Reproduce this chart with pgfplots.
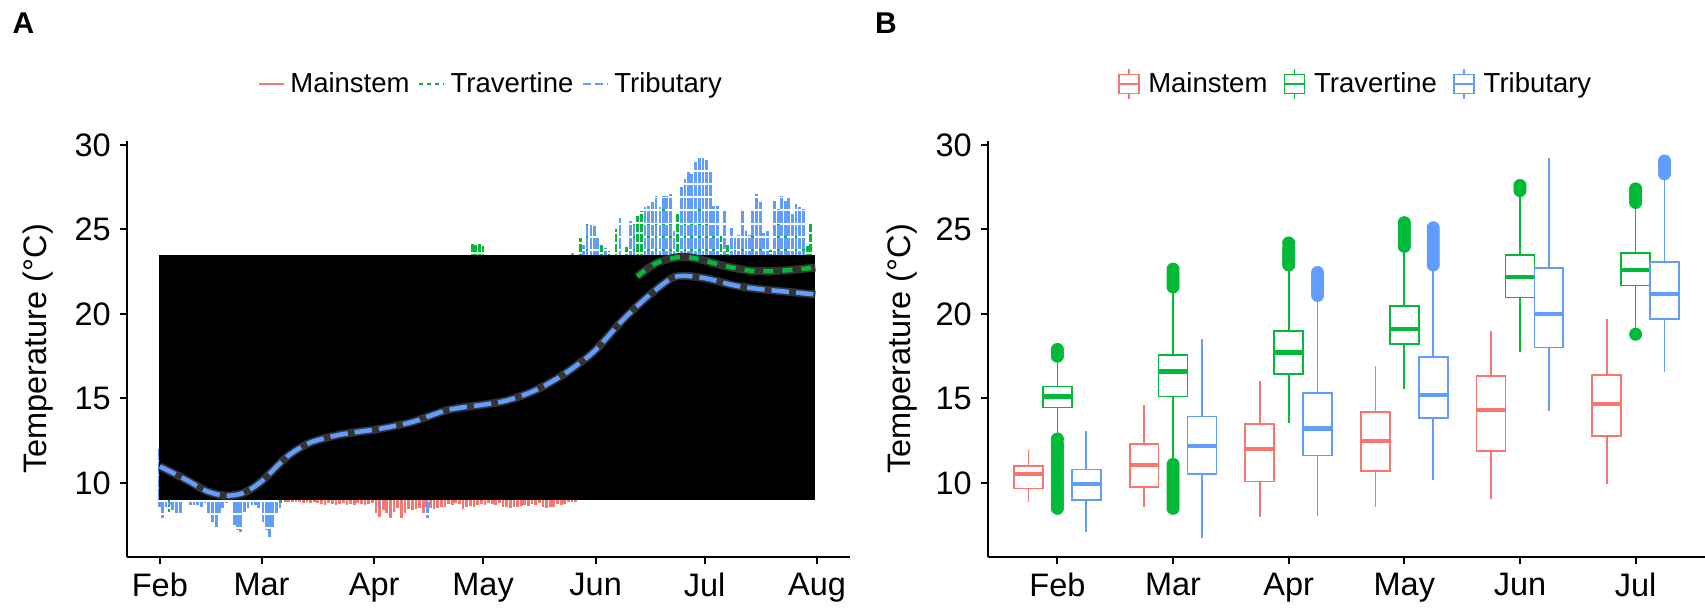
\documentclass[border=0pt]{standalone}
\usepackage{fontspec}
\setmainfont{Liberation Sans}
\usepackage{pgfplots}
\pgfplotsset{compat=1.18}
\definecolor{cR}{HTML}{F8766D}
\definecolor{cG}{HTML}{00BA38}
\definecolor{cB}{HTML}{619CFF}
\definecolor{halo}{HTML}{333333}
\begin{document}
\begin{tikzpicture}
\useasboundingbox (0,0) rectangle (682pt,243.2pt);
\pgfplotsset{
  base/.style={
    scale only axis, height=166.5pt,
    ymin=5.62, ymax=30.25,
    ytick={10,15,20,25,30},
    axis x line*=bottom, axis y line*=left,
    axis line style={line width=0.8pt,-},
    tick style={line width=0.8pt,black},
    tick align=outside, major tick length=3pt,
    tick label style={font=\fontsize{13}{15}\selectfont},
    /pgf/number format/assume math mode=true,
    ylabel={Temperature (°C)},
    ylabel style={font=\fontsize{13}{15}\selectfont, anchor=center},
    legend style={draw=none, fill=none, font=\fontsize{11}{13}\selectfont,
      legend columns=3, anchor=center},
    unbounded coords=jump,
  }
}
% ---------------- Panel A ----------------
\begin{axis}[base, at={(50.8pt,20.4pt)}, anchor=south west, width=289.2pt,
  xmin=-9.05, xmax=190.05,
  xtick={0,28,59,89,120,150,181},
  xticklabels={Feb,Mar,Apr,May,Jun,Jul,Aug},
  ylabel style={at={(axis description cs:-0.123,0.5)}},
  legend style={at={(0.5055,1.1363)},
    /tikz/every even column/.append style={column sep=1.5pt}},
  legend image code/.code={\draw[#1] (0pt,0pt) -- (10pt,0pt);}]
\addlegendimage{cR, line width=0.9pt}
\addlegendentry{Mainstem}
\addlegendimage{cG, line width=0.9pt, dash pattern=on 1.5pt off 1.6pt}
\addlegendentry{Travertine}
\addlegendimage{cB, line width=0.9pt, dash pattern=on 3pt off 1.8pt}
\addlegendentry{Tributary}
% raw series, lower visible parts (Mainstem)
\addplot[cR, line width=1.1pt, forget plot] coordinates {
(34.5,12)(34.5,8.9)(34.5,nan) (35.5,12)(35.5,8.85)(35.5,nan) (36.5,12)(36.5,8.9)(36.5,nan) (37.5,12)(37.5,8.85)(37.5,nan)
(38.5,12)(38.5,8.85)(38.5,nan) (39.5,12)(39.5,8.8)(39.5,nan) (40.5,12)(40.5,8.85)(40.5,nan) (41.5,12)(41.5,8.8)(41.5,nan)
(42.5,12)(42.5,8.85)(42.5,nan) (43.5,12)(43.5,8.8)(43.5,nan) (44.5,12)(44.5,8.75)(44.5,nan) (45.5,12)(45.5,8.7)(45.5,nan)
(46.5,12)(46.5,8.8)(46.5,nan) (47.5,12)(47.5,8.75)(47.5,nan) (48.5,12)(48.5,8.7)(48.5,nan) (49.5,12)(49.5,8.75)(49.5,nan)
(50.5,12)(50.5,8.8)(50.5,nan) (51.5,12)(51.5,8.7)(51.5,nan) (52.5,12)(52.5,8.75)(52.5,nan) (53.5,12)(53.5,8.7)(53.5,nan)
(54.5,12)(54.5,8.8)(54.5,nan) (55.5,12)(55.5,8.75)(55.5,nan) (56.5,12)(56.5,8.7)(56.5,nan) (57.5,12)(57.5,8.75)(57.5,nan)
(58.5,12)(58.5,8.8)(58.5,nan) (59.5,12)(59.5,8.2)(59.5,nan) (60.5,12)(60.5,8.0)(60.5,nan) (61.5,12)(61.5,8.4)(61.5,nan)
(62.5,12)(62.5,8.2)(62.5,nan) (63.5,12)(63.5,7.9)(63.5,nan) (64.5,12)(64.5,8.3)(64.5,nan) (65.5,12)(65.5,8.5)(65.5,nan)
(66.5,12)(66.5,7.9)(66.5,nan) (67.5,12)(67.5,8.2)(67.5,nan) (68.5,12)(68.5,8.45)(68.5,nan) (69.5,12)(69.5,8.4)(69.5,nan)
(70.5,12)(70.5,8.45)(70.5,nan) (71.5,12)(71.5,8.5)(71.5,nan) (72.5,12)(72.5,8.2)(72.5,nan) (73.5,12)(73.5,8.6)(73.5,nan)
(74.5,12)(74.5,8.5)(74.5,nan) (75.5,12)(75.5,8.45)(75.5,nan) (76.5,12)(76.5,8.5)(76.5,nan) (77.5,12)(77.5,8.55)(77.5,nan)
(78.5,12)(78.5,8.6)(78.5,nan) (79.5,12)(79.5,8.75)(79.5,nan) (80.5,12)(80.5,8.7)(80.5,nan) (81.5,12)(81.5,8.8)(81.5,nan)
(82.5,12)(82.5,8.75)(82.5,nan) (83.5,12)(83.5,8.45)(83.5,nan) (84.5,12)(84.5,8.6)(84.5,nan) (85.5,12)(85.5,8.65)(85.5,nan)
(86.5,12)(86.5,8.6)(86.5,nan) (87.5,12)(87.5,8.7)(87.5,nan) (88.5,12)(88.5,8.75)(88.5,nan) (89.5,12)(89.5,8.7)(89.5,nan)
(90.5,12)(90.5,8.8)(90.5,nan) (91.5,12)(91.5,8.75)(91.5,nan) (92.5,12)(92.5,8.7)(92.5,nan) (93.5,12)(93.5,8.8)(93.5,nan)
(94.5,12)(94.5,8.55)(94.5,nan) (95.5,12)(95.5,8.6)(95.5,nan) (96.5,12)(96.5,8.5)(96.5,nan) (97.5,12)(97.5,8.6)(97.5,nan)
(98.5,12)(98.5,8.55)(98.5,nan) (99.5,12)(99.5,8.65)(99.5,nan) (100.5,12)(100.5,8.7)(100.5,nan) (101.5,12)(101.5,8.65)(101.5,nan)
(102.5,12)(102.5,8.75)(102.5,nan) (103.5,12)(103.5,8.7)(103.5,nan) (104.5,12)(104.5,8.8)(104.5,nan) (105.5,12)(105.5,8.55)(105.5,nan)
(106.5,12)(106.5,8.5)(106.5,nan) (107.5,12)(107.5,8.6)(107.5,nan) (108.5,12)(108.5,8.55)(108.5,nan) (109.5,12)(109.5,8.75)(109.5,nan)
(110.5,12)(110.5,8.7)(110.5,nan) (111.5,12)(111.5,8.75)(111.5,nan) (112.5,12)(112.5,8.85)(112.5,nan) (113.5,12)(113.5,8.9)(113.5,nan)
(114.5,12)(114.5,8.9)(114.5,nan)
};
% Travertine raw, visible parts
\addplot[cG, line width=1.1pt, dash pattern=on 3pt off 1pt, forget plot] coordinates {
(2.5,12)(2.5,8.3)(2.5,nan) (33.3,12)(33.3,8.8)(33.3,nan)
(86,16)(86,24.2)(86,nan) (87,16)(87,24.1)(87,nan) (88,16)(88,24.2)(88,nan) (89,16)(89,24.0)(89,nan)
(115.8,16)(115.8,24.5)(115.8,nan) (117.6,16)(117.6,25.4)(117.6,nan) (121.7,16)(121.7,24.1)(121.7,nan)
(123.7,16)(123.7,23.7)(123.7,nan) (125.6,16)(125.6,25.0)(125.6,nan) (128.6,16)(128.6,23.95)(128.6,nan)
(130.6,16)(130.6,25.3)(130.6,nan) (131.5,16)(131.5,25.8)(131.5,nan) (132.6,16)(132.6,26.1)(132.6,nan)
(134.6,16)(134.6,25.6)(134.6,nan) (136.6,16)(136.6,25.5)(136.6,nan) (138.7,16)(138.7,26.6)(138.7,nan)
(140.7,16)(140.7,25.4)(140.7,nan) (142.6,16)(142.6,26.0)(142.6,nan) (144.6,16)(144.6,25.6)(144.6,nan)
(146.5,16)(146.5,25.8)(146.5,nan) (148.5,16)(148.5,26.3)(148.5,nan) (150.6,16)(150.6,25.8)(150.6,nan)
(152.5,16)(152.5,25.2)(152.5,nan) (154.5,16)(154.5,24.6)(154.5,nan) (156.4,16)(156.4,24.1)(156.4,nan)
(158.4,16)(158.4,23.8)(158.4,nan) (160.4,16)(160.4,24.2)(160.4,nan) (163.2,16)(163.2,24.7)(163.2,nan)
(165.3,16)(165.3,24.5)(165.3,nan) (168.2,16)(168.2,23.8)(168.2,nan) (170.3,16)(170.3,25.3)(170.3,nan)
(172.2,16)(172.2,25.1)(172.2,nan) (175.2,16)(175.2,24.6)(175.2,nan) (177.2,16)(177.2,24.4)(177.2,nan)
(178.3,16)(178.3,24.0)(178.3,nan) (179.2,16)(179.2,25.4)(179.2,nan)
};
% Tributary raw, visible parts
\addplot[cB, line width=1.1pt, dash pattern=on 4.5pt off 0.8pt, forget plot] coordinates {
(0,12)(0,8.6)(0,nan) (0.8,12)(0.8,7.9)(0.8,nan) (1.7,12)(1.7,8.6)(1.7,nan) (2.6,12)(2.6,8.7)(2.6,nan) (3.5,12)(3.5,8.4)(3.5,nan)
(4.6,12)(4.6,8.25)(4.6,nan) (5.6,12)(5.6,8.25)(5.6,nan) (8.5,12)(8.5,8.7)(8.5,nan) (9.4,12)(9.4,8.7)(9.4,nan)
(10.3,12)(10.3,8.7)(10.3,nan) (11.5,12)(11.5,8.6)(11.5,nan) (12.4,12)(12.4,8.8)(12.4,nan) (13.3,12)(13.3,8.2)(13.3,nan)
(14.4,12)(14.4,7.7)(14.4,nan) (15.6,12)(15.6,7.3)(15.6,nan) (16.5,12)(16.5,8.2)(16.5,nan) (17.3,12)(17.3,8.5)(17.3,nan)
(18.4,12)(18.4,8.8)(18.4,nan)
(19.4,12)(19.4,8.9)(19.4,nan) (20.5,12)(20.5,7.5)(20.5,nan) (21.4,12)(21.4,7.2)(21.4,nan) (22.3,12)(22.3,7.1)(22.3,nan)
(23.4,12)(23.4,8.3)(23.4,nan) (24.3,12)(24.3,8.5)(24.3,nan) (25.4,12)(25.4,8.7)(25.4,nan) (26.3,12)(26.3,8.7)(26.3,nan)
(27.2,12)(27.2,8.5)(27.2,nan) (28.4,12)(28.4,7.7)(28.4,nan) (29.3,12)(29.3,7.2)(29.3,nan) (30.2,12)(30.2,6.8)(30.2,nan)
(31.1,12)(31.1,7.4)(31.1,nan) (32.2,12)(32.2,8.2)(32.2,nan) (33.1,12)(33.1,8.5)(33.1,nan)
(60.6,12)(60.6,8.5)(60.6,nan) (66.4,12)(66.4,8.8)(66.4,nan) (73.6,12)(73.6,7.95)(73.6,nan)
(113.7,16)(113.7,23.6)(113.7,nan) (116.7,16)(116.7,24.1)(116.7,nan) (117.6,16)(117.6,25.2)(117.6,nan)
(118.7,16)(118.7,25.4)(118.7,nan) (119.7,16)(119.7,25.2)(119.7,nan) (120.6,16)(120.6,24.6)(120.6,nan)
(122.7,16)(122.7,23.9)(122.7,nan) (126.7,16)(126.7,25.7)(126.7,nan) (129.7,16)(129.7,25.5)(129.7,nan)
(130.6,16)(130.6,25.3)(130.6,nan) (133.6,16)(133.6,26.35)(133.6,nan) (134.6,16)(134.6,26.4)(134.6,nan)
(135.7,16)(135.7,26.6)(135.7,nan) (136.6,16)(136.6,27.0)(136.6,nan) (137.7,16)(137.7,26.3)(137.7,nan)
(138.7,16)(138.7,27.0)(138.7,nan) (139.6,16)(139.6,27.0)(139.6,nan) (140.7,16)(140.7,27.1)(140.7,nan)
(141.6,16)(141.6,24.9)(141.6,nan) (143.6,16)(143.6,27.5)(143.6,nan) (144.6,16)(144.6,28.0)(144.6,nan)
(145.5,16)(145.5,28.5)(145.5,nan) (146.5,16)(146.5,28.3)(146.5,nan) (147.5,16)(147.5,29.0)(147.5,nan)
(148.5,16)(148.5,29.2)(148.5,nan) (149.6,16)(149.6,29.2)(149.6,nan) (150.6,16)(150.6,29.1)(150.6,nan)
(151.6,16)(151.6,28.4)(151.6,nan) (152.5,16)(152.5,26.4)(152.5,nan) (153.5,16)(153.5,26.4)(153.5,nan)
(155.4,16)(155.4,26.1)(155.4,nan) (157.5,16)(157.5,25.1)(157.5,nan) (158.4,16)(158.4,24.5)(158.4,nan)
(159.4,16)(159.4,24.7)(159.4,nan) (160.4,16)(160.4,26.1)(160.4,nan) (161.4,16)(161.4,24.9)(161.4,nan)
(162.3,16)(162.3,24.7)(162.3,nan) (163.2,16)(163.2,26.1)(163.2,nan) (164.3,16)(164.3,27.1)(164.3,nan)
(165.3,16)(165.3,26.6)(165.3,nan) (166.3,16)(166.3,24.8)(166.3,nan) (167.3,16)(167.3,24.9)(167.3,nan)
(169.3,16)(169.3,26.7)(169.3,nan) (170.3,16)(170.3,26.2)(170.3,nan) (171.2,16)(171.2,27.0)(171.2,nan)
(172.2,16)(172.2,26.7)(172.2,nan) (173.2,16)(173.2,26.9)(173.2,nan) (174.2,16)(174.2,25.9)(174.2,nan)
(175.2,16)(175.2,26.5)(175.2,nan) (176.2,16)(176.2,26.3)(176.2,nan) (177.2,16)(177.2,26.2)(177.2,nan)
};
% black band
\addplot[fill=black, draw=none, forget plot] coordinates {(-0.3,8.99) (180.5,8.99) (180.5,23.49) (-0.3,23.49)} --cycle;
% smooth lines with dark halo
\addplot[halo, line width=3.2pt, smooth, tension=0.5, forget plot] coordinates {
(0,10.98)(4,10.55)(8,10.1)(13,9.51)(18,9.25)(23,9.41)(28,10.1)(35,11.55)(41,12.35)(47.5,12.76)(53,12.98)(59,13.15)(64,13.35)(70,13.64)(79.5,14.33)(89,14.63)(95,14.85)(100.4,15.22)(105,15.65)(110.3,16.3)(115,17.0)(120,17.87)(127.5,19.65)(134.6,21.08)(140.8,22.1)(144.5,22.25)(150.6,22.1)(158,21.7)(165.3,21.47)(175,21.27)(180.5,21.15)};
\addplot[halo, line width=3.2pt, smooth, tension=0.5, forget plot] coordinates {
(131.5,22.2)(132.8,22.45)(137,23.04)(143,23.37)(148,23.27)(155.5,22.84)(163,22.55)(170,22.55)(176,22.65)(180.5,22.75)};
\addplot[cG, line width=1.8pt, dash pattern=on 4pt off 3.6pt, smooth, tension=0.5, forget plot] coordinates {
(131.5,22.2)(132.8,22.45)(137,23.04)(143,23.37)(148,23.27)(155.5,22.84)(163,22.55)(170,22.55)(176,22.65)(180.5,22.75)};
\addplot[cB, line width=1.8pt, dash pattern=on 7pt off 2.8pt, smooth, tension=0.5, forget plot] coordinates {
(0,10.98)(4,10.55)(8,10.1)(13,9.51)(18,9.25)(23,9.41)(28,10.1)(35,11.55)(41,12.35)(47.5,12.76)(53,12.98)(59,13.15)(64,13.35)(70,13.64)(79.5,14.33)(89,14.63)(95,14.85)(100.4,15.22)(105,15.65)(110.3,16.3)(115,17.0)(120,17.87)(127.5,19.65)(134.6,21.08)(140.8,22.1)(144.5,22.25)(150.6,22.1)(158,21.7)(165.3,21.47)(175,21.27)(180.5,21.15)};
\end{axis}
% ---------------- Panel B ----------------
\begin{axis}[base, at={(395.2pt,20.4pt)}, anchor=south west, width=286.8pt,
  xmin=0.4, xmax=6.6,
  xtick={1,2,3,4,5,6},
  xticklabels={Feb,Mar,Apr,May,Jun,Jul},
  ylabel style={at={(axis description cs:-0.12,0.5)}},
  legend style={at={(0.512,1.1363)},
    /tikz/every even column/.append style={column sep=3pt}},
  legend image code/.code={
    \path (-1.5pt,0pt) (9.5pt,0pt);
    \draw[#1] (0pt,-3.8pt) rectangle (8pt,3.8pt);
    \draw[#1] (0pt,0pt) -- (8pt,0pt);
    \draw[#1] (4pt,3.8pt) -- (4pt,6pt);
    \draw[#1] (4pt,-3.8pt) -- (4pt,-6pt);},
  boxline/.style={line width=0.7pt, line cap=rect, forget plot},
  medline/.style={line width=1.7pt, line cap=butt, forget plot},
  outl/.style={only marks, mark=*, mark size=2.4pt, forget plot},
  ]
\addlegendimage{cR, line width=0.7pt}
\addlegendentry{Mainstem}
\addlegendimage{cG, line width=0.7pt}
\addlegendentry{Travertine}
\addlegendimage{cB, line width=0.7pt}
\addlegendentry{Tributary}
% ---- Mainstem boxes (x = month - 0.25): box, whiskers
\addplot[cR, boxline] coordinates {
(0.625,9.67)(0.875,9.67)(0.875,11.02)(0.625,11.02)(0.625,9.67)(0.75,nan) (0.75,11.02)(0.75,11.91)(0.75,nan) (0.75,9.67)(0.75,8.92)(0.75,nan)
(1.625,9.76)(1.875,9.76)(1.875,12.31)(1.625,12.31)(1.625,9.76)(1.75,nan) (1.75,12.31)(1.75,14.57)(1.75,nan) (1.75,9.76)(1.75,8.62)(1.75,nan)
(2.625,10.08)(2.875,10.08)(2.875,13.47)(2.625,13.47)(2.625,10.08)(2.75,nan) (2.75,13.47)(2.75,16.01)(2.75,nan) (2.75,10.08)(2.75,8.03)(2.75,nan)
(3.625,10.69)(3.875,10.69)(3.875,14.18)(3.625,14.18)(3.625,10.69)(3.75,nan) (3.75,14.18)(3.75,16.86)(3.75,nan) (3.75,10.69)(3.75,8.62)(3.75,nan)
(4.625,11.91)(4.875,11.91)(4.875,16.31)(4.625,16.31)(4.625,11.91)(4.75,nan) (4.75,16.31)(4.75,18.97)(4.75,nan) (4.75,11.91)(4.75,9.11)(4.75,nan)
(5.625,12.80)(5.875,12.80)(5.875,16.40)(5.625,16.40)(5.625,12.80)(5.75,nan) (5.75,16.40)(5.75,19.66)(5.75,nan) (5.75,12.80)(5.75,10.0)(5.75,nan)
};
\addplot[cR, medline] coordinates {
(0.625,10.53)(0.875,10.53)(0.75,nan) (1.625,11.08)(1.875,11.08)(1.75,nan) (2.625,12.03)(2.875,12.03)(2.75,nan)
(3.625,12.50)(3.875,12.50)(3.75,nan) (4.625,14.33)(4.875,14.33)(4.75,nan) (5.625,14.67)(5.875,14.67)(5.75,nan)
};
% ---- Travertine boxes (x = month)
\addplot[cG, boxline] coordinates {
(0.875,14.47)(1.125,14.47)(1.125,15.71)(0.875,15.71)(0.875,14.47)(1,nan) (1,15.71)(1,17.29)(1,nan) (1,14.47)(1,12.9)(1,nan)
(1.875,15.12)(2.125,15.12)(2.125,17.55)(1.875,17.55)(1.875,15.12)(2,nan) (2,17.55)(2,21.3)(2,nan) (2,15.12)(2,11.45)(2,nan)
(2.875,16.46)(3.125,16.46)(3.125,19.0)(2.875,19.0)(2.875,16.46)(3,nan) (3,19.0)(3,22.6)(3,nan) (3,16.46)(3,13.59)(3,nan)
(3.875,18.22)(4.125,18.22)(4.125,20.48)(3.875,20.48)(3.875,18.22)(4,nan) (4,20.48)(4,23.7)(4,nan) (4,18.22)(4,15.62)(4,nan)
(4.875,20.98)(5.125,20.98)(5.125,23.5)(4.875,23.5)(4.875,20.98)(5,nan) (5,23.5)(5,27.0)(5,nan) (5,20.98)(5,17.82)(5,nan)
(5.875,21.68)(6.125,21.68)(6.125,23.6)(5.875,23.6)(5.875,21.68)(6,nan) (6,23.6)(6,26.3)(6,nan) (6,21.68)(6,19.2)(6,nan)
};
\addplot[cG, medline] coordinates {
(0.875,15.12)(1.125,15.12)(1,nan) (1.875,16.60)(2.125,16.60)(2,nan) (2.875,17.72)(3.125,17.72)(3,nan)
(3.875,19.10)(4.125,19.10)(4,nan) (4.875,22.2)(5.125,22.2)(5,nan) (5.875,22.59)(6.125,22.59)(6,nan)
};
\addplot[cG, outl] coordinates {
(1,17.5)(1,17.7)(1,17.9)
(1,8.5)(1,8.7)(1,8.9)(1,9.1)(1,9.3)(1,9.5)(1,9.7)(1,9.9)(1,10.1)(1,10.3)(1,10.5)(1,10.7)(1,10.9)(1,11.1)(1,11.3)(1,11.5)(1,11.7)(1,11.9)(1,12.1)(1,12.3)(1,12.6)
(2,21.6)(2,21.8)(2,22.0)(2,22.2)(2,22.4)(2,22.65)
(2,8.5)(2,8.7)(2,8.9)(2,9.1)(2,9.3)(2,9.5)(2,9.7)(2,9.9)(2,10.1)(2,10.3)(2,10.5)(2,10.7)(2,10.9)(2,11.1)
(3,22.9)(3,23.1)(3,23.3)(3,23.5)(3,23.7)(3,23.9)(3,24.2)
(4,24.0)(4,24.2)(4,24.4)(4,24.6)(4,24.8)(4,25.0)(4,25.2)(4,25.4)
(5,27.3)(5,27.45)(5,27.6)
(6,26.6)(6,26.8)(6,27.0)(6,27.2)(6,27.4)(6,18.8)
};
% ---- Tributary boxes (x = month + 0.25)
\addplot[cB, boxline] coordinates {
(1.125,9.01)(1.375,9.01)(1.375,10.79)(1.125,10.79)(1.125,9.01)(1.25,nan) (1.25,10.79)(1.25,13.0)(1.25,nan) (1.25,9.01)(1.25,7.18)(1.25,nan)
(2.125,10.53)(2.375,10.53)(2.375,13.94)(2.125,13.94)(2.125,10.53)(2.25,nan) (2.25,13.94)(2.25,18.47)(2.25,nan) (2.25,10.53)(2.25,6.81)(2.25,nan)
(3.125,11.62)(3.375,11.62)(3.375,15.32)(3.125,15.32)(3.125,11.62)(3.25,nan) (3.25,15.32)(3.25,20.8)(3.25,nan) (3.25,11.62)(3.25,8.07)(3.25,nan)
(4.125,13.84)(4.375,13.84)(4.375,17.45)(4.125,17.45)(4.125,13.84)(4.25,nan) (4.25,17.45)(4.25,22.6)(4.25,nan) (4.25,13.84)(4.25,10.2)(4.25,nan)
(5.125,18.02)(5.375,18.02)(5.375,22.71)(5.125,22.71)(5.125,18.02)(5.25,nan) (5.25,22.71)(5.25,29.15)(5.25,nan) (5.25,18.02)(5.25,14.3)(5.25,nan)
(6.125,19.71)(6.375,19.71)(6.375,23.08)(6.125,23.08)(6.125,19.71)(6.25,nan) (6.25,23.08)(6.25,27.9)(6.25,nan) (6.25,19.71)(6.25,16.6)(6.25,nan)
};
\addplot[cB, medline] coordinates {
(1.125,9.96)(1.375,9.96)(1.25,nan) (2.125,12.17)(2.375,12.17)(2.25,nan) (3.125,13.23)(3.375,13.23)(3.25,nan)
(4.125,15.22)(4.375,15.22)(4.25,nan) (5.125,19.99)(5.375,19.99)(5.25,nan) (6.125,21.17)(6.375,21.17)(6.25,nan)
};
\addplot[cB, outl] coordinates {
(3.25,21.1)(3.25,21.3)(3.25,21.5)(3.25,21.7)(3.25,21.9)(3.25,22.1)(3.25,22.3)(3.25,22.45)
(4.25,22.9)(4.25,23.1)(4.25,23.3)(4.25,23.5)(4.25,23.7)(4.25,23.9)(4.25,24.1)(4.25,24.3)(4.25,24.5)(4.25,24.7)(4.25,24.9)(4.25,25.1)
(6.25,28.3)(6.25,28.5)(6.25,28.7)(6.25,28.9)(6.25,29.05)
};
\end{axis}
\node[font=\bfseries\fontsize{12}{14}\selectfont] at (9.4pt,234pt) {A};
\node[font=\bfseries\fontsize{12}{14}\selectfont] at (354.4pt,234pt) {B};
\end{tikzpicture}
\end{document}
